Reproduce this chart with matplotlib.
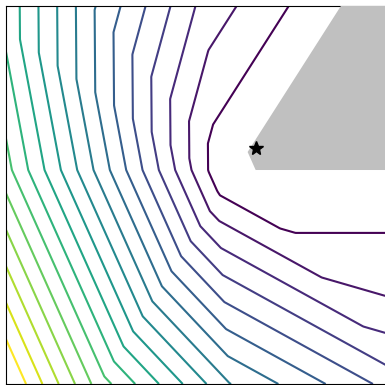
import numpy as np
import matplotlib
matplotlib.use("Agg")
import matplotlib.pyplot as plt
from matplotlib.patches import Polygon

# Linear constraints a . p <= b and the weights of their hinge penalties
con_ax = [-0.844, -0.998, -0.764, -0.577, 0.0]
con_ay = [0.536, -0.063, -0.645, -0.817, -1.0]
con_b = [-2.077, -5.871, -8.164, -7.661, -5.661]
con_w = [0.864, 0.796, 0.663, 0.515, 0.601]

# Contour levels of the penalty
levels = list(range(1, 19))

# Feasible region (clipped by the axes) and the optimum
region_x = [6.359, 9.13, 10.5, 10.5, 6.570]
region_y = [6.138, 10.5, 10.5, 5.661, 5.661]
opt_x = [6.570]
opt_y = [6.243]

xs = np.linspace(0, 10, 601)
ys = np.linspace(0, 10, 601)
X, Y = np.meshgrid(xs, ys)
Z = np.zeros_like(X)
for ax_, ay_, b_, w_ in zip(con_ax, con_ay, con_b, con_w):
    Z += w_ * np.maximum(0.0, ax_ * X + ay_ * Y - b_)

fig = plt.figure(figsize=(3.85, 3.85), dpi=100)
ax = fig.add_axes([6 / 385, 1 / 385, 380 / 385, 378 / 385])
ax.contour(X, Y, Z, levels=levels, cmap="viridis", linewidths=1.5)
ax.add_patch(Polygon(np.column_stack([region_x, region_y]), closed=True,
                     facecolor="silver", edgecolor="none", zorder=3))
ax.plot(opt_x, opt_y, "k*", markersize=10, zorder=4)
ax.set_xlim(0, 10)
ax.set_ylim(0, 10)
ax.set_xticks([])
ax.set_yticks([])
fig.savefig("out.png", dpi=100)
